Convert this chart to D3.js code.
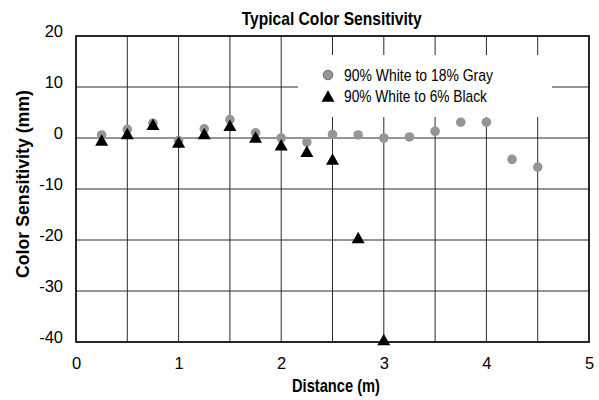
<!DOCTYPE html>
<html>
<head>
<meta charset="utf-8">
<script src="https://cdn.jsdelivr.net/npm/d3@7/dist/d3.min.js"></script>
<style>
  html, body { margin: 0; padding: 0; background: #fff; }
  svg { display: block; }
  text { font-family: "Liberation Sans", Arial, sans-serif; fill: #000; }
</style>
</head>
<body>
<svg id="chart" width="599" height="400"></svg>
<script>
const distances = [0.25, 0.5, 0.75, 1.0, 1.25, 1.5, 1.75, 2.0, 2.25, 2.5, 2.75, 3.0, 3.25, 3.5, 3.75, 4.0, 4.25, 4.5];
const grayValues = [0.6, 1.7, 2.9, -0.5, 1.8, 3.6, 1.0, 0.0, -0.8, 0.7, 0.6, 0.0, 0.2, 1.3, 3.1, 3.1, -4.2, -5.7];
const blackDistances = [0.25, 0.5, 0.75, 1.0, 1.25, 1.5, 1.75, 2.0, 2.25, 2.5, 2.75, 3.0];
const blackValues = [-0.4, 0.9, 2.7, -0.8, 0.9, 2.5, 0.2, -1.3, -2.6, -4.1, -19.5, -39.5];
const xTicks = [0, 1, 2, 3, 4, 5];
const yTicks = [20, 10, 0, -10, -20, -30, -40];
const xGrid = [0.5, 1, 1.5, 2, 2.5, 3, 3.5, 4, 4.5];
const yGrid = [10, 0, -10, -20, -30];
const seriesNames = ["90% White to 18% Gray", "90% White to 6% Black"];
const titleText = "Typical Color Sensitivity";
const xTitle = "Distance (m)";
const yTitle = "Color Sensitivity (mm)";

const svg = d3.select("#chart");
const pLeft = 76, pRight = 589, pTop = 36, pBottom = 342;
const x = d3.scaleLinear().domain([0, 5]).range([pLeft, pRight]);
const y = d3.scaleLinear().domain([-40, 20]).range([pBottom, pTop]);

// condensed look (the original uses a narrow face)
function fit(sel, w) {
  sel.attr("textLength", w).attr("lengthAdjust", "spacingAndGlyphs");
  return sel;
}

// grid
const grid = svg.append("g");
grid.selectAll("line.v").data(xGrid).enter().append("line")
  .attr("x1", d => x(d)).attr("x2", d => x(d))
  .attr("y1", pTop).attr("y2", pBottom)
  .attr("stroke", "#2a2a2a").attr("stroke-width", 1);
grid.selectAll("line.h").data(yGrid).enter().append("line")
  .attr("x1", pLeft).attr("x2", pRight)
  .attr("y1", d => y(d)).attr("y2", d => y(d))
  .attr("stroke", "#2a2a2a").attr("stroke-width", 1);

// legend background (covers grid)
svg.append("rect").attr("x", 298).attr("y", 55).attr("width", 254).attr("height", 62).attr("fill", "#fff");

// frame
svg.append("rect").attr("x", pLeft).attr("y", pTop).attr("width", pRight - pLeft).attr("height", pBottom - pTop)
  .attr("fill", "none").attr("stroke", "#111").attr("stroke-width", 1.8);

// axes
const xAxis = d3.axisBottom(x).tickValues(xTicks).tickSize(0).tickPadding(0).tickFormat(d => String(d));
const gx = svg.append("g").attr("transform", `translate(0,${pBottom})`).call(xAxis);
gx.select(".domain").remove();
gx.selectAll("text").attr("font-size", 16.5).attr("font-family", null).attr("dy", 0).attr("y", 26.5);

const yAxis = d3.axisLeft(y).tickValues(yTicks).tickSize(0).tickPadding(13).tickFormat(d => String(d));
const gy = svg.append("g").attr("transform", `translate(${pLeft},0)`).call(yAxis);
gy.select(".domain").remove();
gy.selectAll("text").attr("font-size", 16.5).attr("font-family", null).attr("dy", 0).attr("y", 0.7);

// title & axis titles
fit(svg.append("text").attr("x", 331.7).attr("y", 25).attr("text-anchor", "middle")
  .attr("font-size", 18.5).attr("font-weight", "bold").text(titleText), 180);
fit(svg.append("text").attr("x", 336).attr("y", 391.5).attr("text-anchor", "middle")
  .attr("font-size", 18.5).attr("font-weight", "bold").text(xTitle), 88);
fit(svg.append("text").attr("transform", `translate(28.5,184) rotate(-90)`).attr("text-anchor", "middle")
  .attr("font-size", 18.5).attr("font-weight", "bold").text(yTitle), 188);

// markers
const tri = (w, h) => `M0,${-h / 2}L${w / 2},${h / 2}L${-w / 2},${h / 2}Z`;
const grayData = distances.map((d, i) => ({ x: d, y: grayValues[i] }));
const blackData = blackDistances.map((d, i) => ({ x: d, y: blackValues[i] }));

svg.append("g").selectAll("circle").data(grayData).enter().append("circle")
  .attr("cx", d => x(d.x)).attr("cy", d => y(d.y)).attr("r", 4.8)
  .attr("fill", "#959595");
svg.append("g").selectAll("path").data(blackData).enter().append("path")
  .attr("transform", d => `translate(${x(d.x)},${y(d.y)})`)
  .attr("d", tri(13, 11.5)).attr("fill", "#000");

// legend
const lg = svg.append("g");
lg.append("circle").attr("cx", 328).attr("cy", 75).attr("r", 4.8).attr("fill", "#959595").attr("stroke", "#333").attr("stroke-width", 0.6);
lg.append("path").attr("transform", "translate(328,96)").attr("d", tri(13, 11.5)).attr("fill", "#000");
fit(lg.append("text").attr("x", 344).attr("y", 80.5).attr("font-size", 17).text(seriesNames[0]), 149);
fit(lg.append("text").attr("x", 344).attr("y", 101.5).attr("font-size", 17).text(seriesNames[1]), 143);
</script>
</body>
</html>
